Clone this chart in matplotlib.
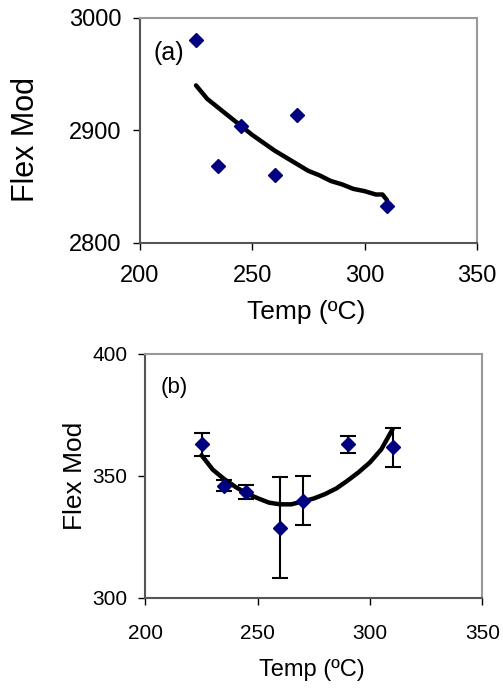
import matplotlib
matplotlib.use('Agg')
import matplotlib.pyplot as plt

plt.rcParams['font.family'] = ['Liberation Sans', 'DejaVu Sans']

#%% data
# panel (a)
temp_a = [225, 235, 245, 260, 270, 310]
flex_a = [2980, 2868, 2904, 2860, 2914, 2833]
fit_temp_a = [225, 230, 235, 240, 245, 250, 255, 260, 265, 270, 275, 280,
              285, 290, 295, 300, 305, 308, 310]
fit_flex_a = [2940, 2928, 2920, 2912, 2904, 2896, 2889, 2882, 2876, 2870,
              2864, 2860, 2855, 2852, 2848, 2846, 2843, 2843, 2838]

# panel (b)
temp_b = [225, 235, 245, 260, 270, 290, 310]
flex_b = [362.8, 346.0, 343.3, 328.8, 339.8, 362.8, 361.6]
err_b = [4.8, 2.4, 2.9, 20.5, 10.0, 3.5, 8.1]
fit_temp_b = [225, 230, 235, 240, 245, 250, 255, 260, 265, 270, 275, 280,
              285, 290, 295, 300, 305, 310]
fit_flex_b = [358.4, 352.5, 348.7, 345.5, 342.8, 340.8, 339.0, 338.3, 338.3,
              339.5, 340.7, 342.5, 344.8, 348.0, 351.5, 355.5, 360.8, 369.0]

xticks = [200, 250, 300, 350]

fig = plt.figure(figsize=(5.03, 6.88), dpi=100)
ax1 = fig.add_axes([0.278, 0.647, 0.670, 0.327])
ax2 = fig.add_axes([0.289, 0.131, 0.670, 0.355])


def style(ax, ysize):
    for s in ['top', 'right']:
        ax.spines[s].set_color('#999999')
        ax.spines[s].set_linewidth(1.5)
    for s in ['left', 'bottom']:
        ax.spines[s].set_color('#555555')
        ax.spines[s].set_linewidth(1.5)
    ax.tick_params(direction='out', length=5, width=1, color='black',
                   labelsize=ysize)
    ax.set_xticks(xticks)
    ax.set_xlim(200, 350)


#%% (a)
ax1.plot(fit_temp_a, fit_flex_a, color='black', lw=3.2, solid_capstyle='round')
ax1.plot(temp_a, flex_a, 'D', color='#000080', ms=7, ls='none')
style(ax1, 17)
ax1.set_ylim(2800, 3000)
ax1.set_yticks([2800, 2900, 3000])
ax1.tick_params(axis='x', pad=11)
ax1.tick_params(axis='y', pad=8)
ax1.set_xlabel('Temp (ºC)', fontsize=19)
ax1.set_ylabel('Flex Mod', fontsize=22)
ax1.xaxis.set_label_coords(0.493, -0.307)
ax1.xaxis.label.set_va('center')
ax1.yaxis.set_label_coords(-0.338, 0.458)
ax1.yaxis.label.set_va('center')
ax1.text(212.9, 2969, '(a)', fontsize=18, ha='center', va='center')

#%% (b)
ax2.plot(fit_temp_b, fit_flex_b, color='black', lw=3.2, solid_capstyle='round')
ax2.errorbar(temp_b, flex_b, yerr=err_b, fmt='D', color='#000080', ms=7,
             ecolor='black', elinewidth=1.5, capsize=6, capthick=1.5)
style(ax2, 15)
ax2.set_ylim(300, 400)
ax2.set_yticks([300, 350, 400])
ax2.tick_params(axis='x', pad=14)
ax2.tick_params(axis='y', pad=8)
ax2.set_xlabel('Temp (ºC)', fontsize=17)
ax2.set_ylabel('Flex Mod', fontsize=19)
ax2.xaxis.set_label_coords(0.495, -0.296)
ax2.xaxis.label.set_va('center')
ax2.yaxis.set_label_coords(-0.209, 0.499)
ax2.yaxis.label.set_va('center')
ax2.text(212.8, 386.3, '(b)', fontsize=16, ha='center', va='center')

fig.savefig('out.png', dpi=100)
